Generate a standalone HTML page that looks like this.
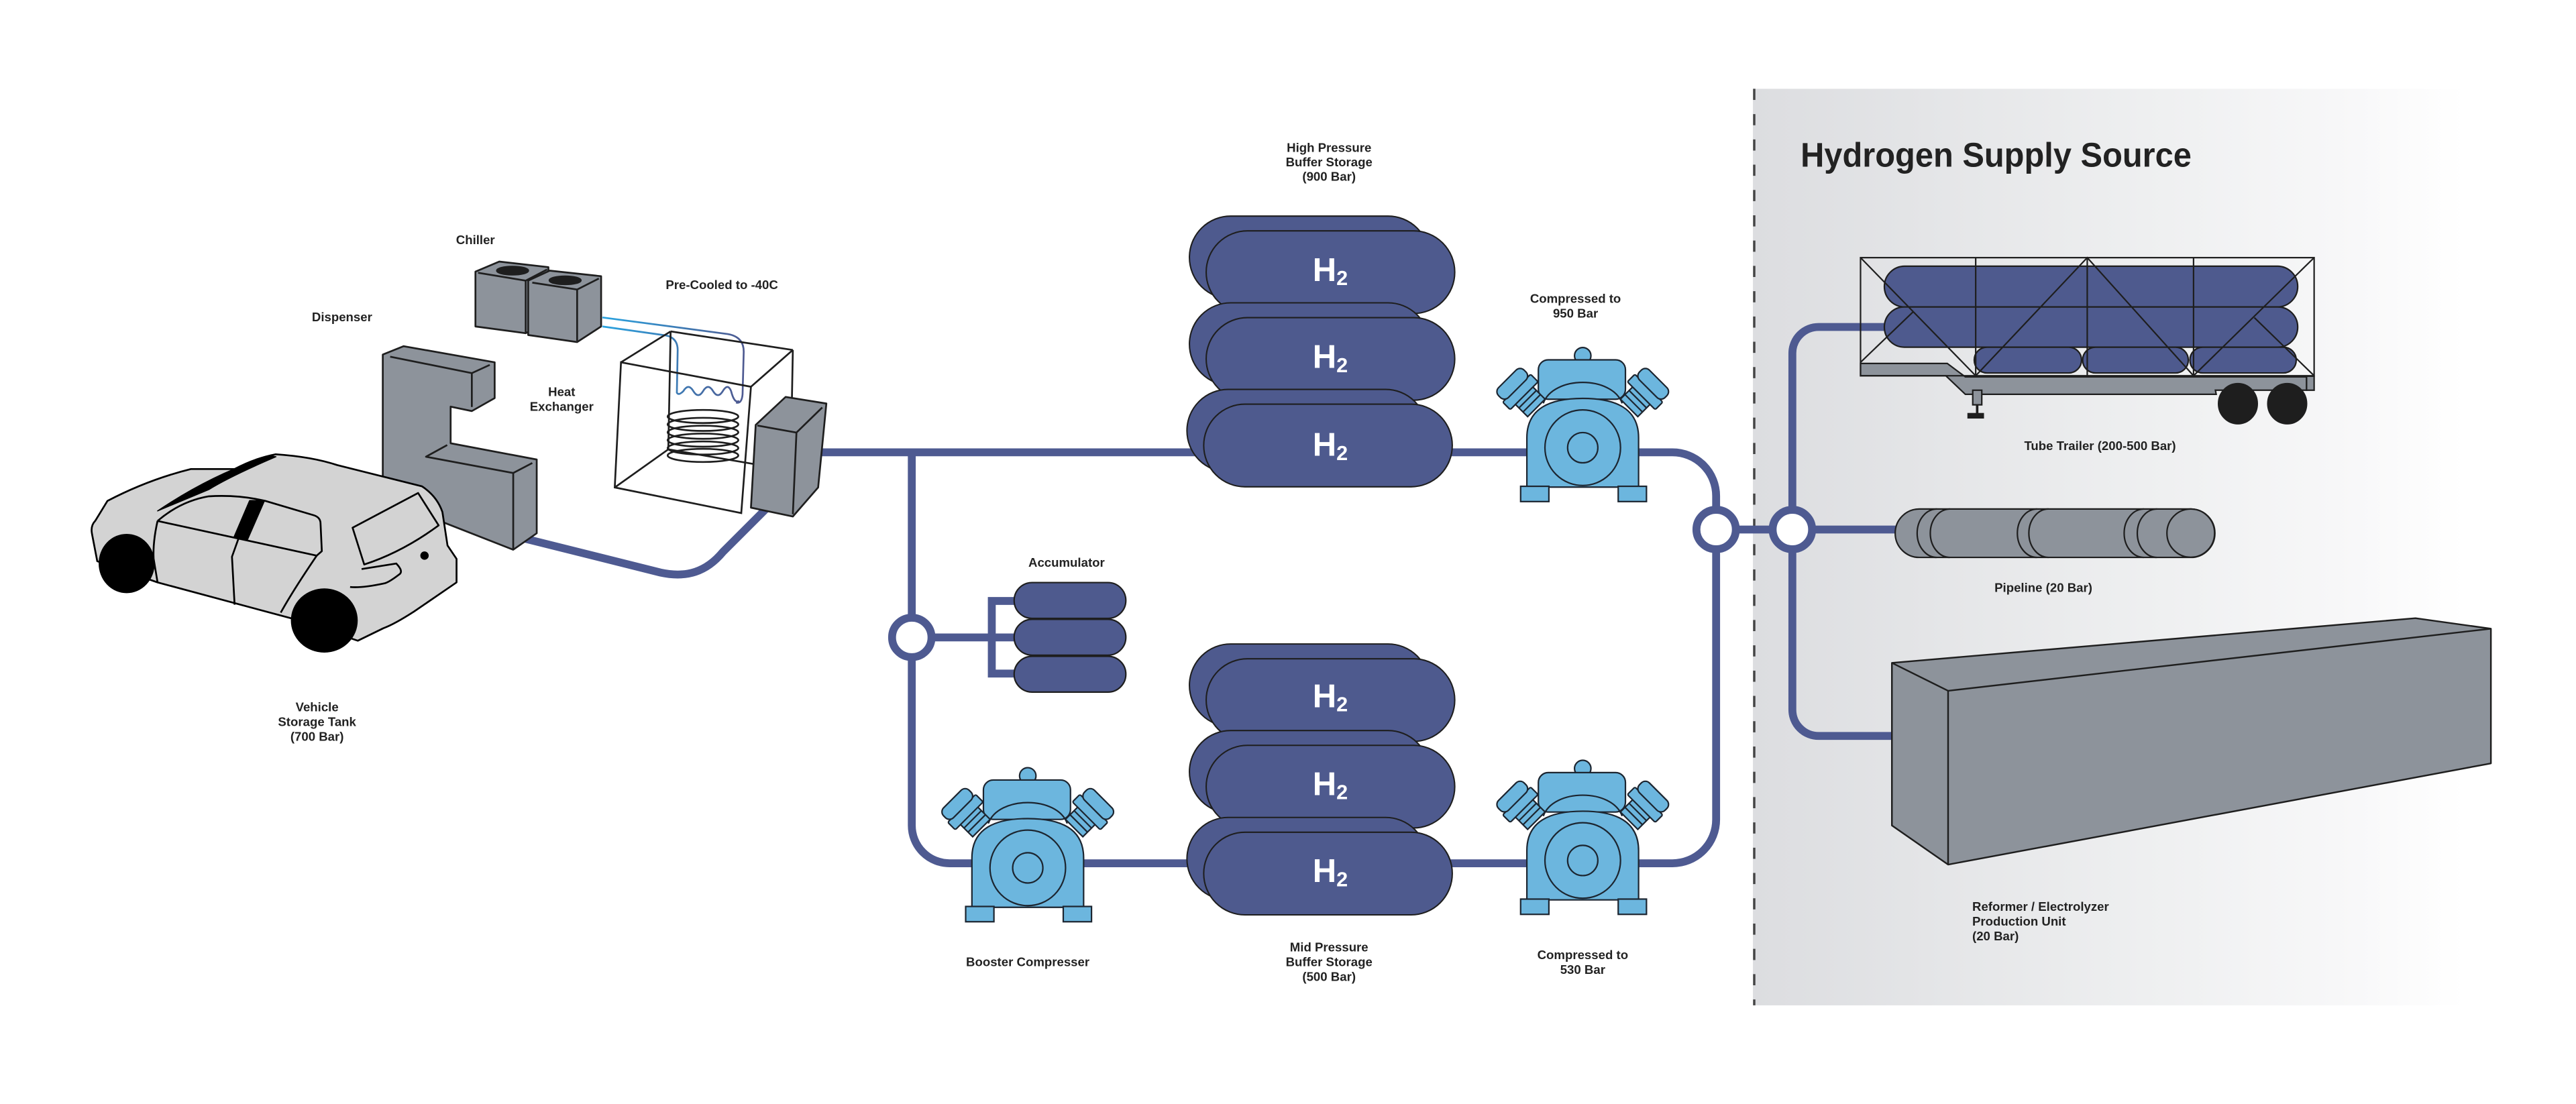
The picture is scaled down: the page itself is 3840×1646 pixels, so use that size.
<!DOCTYPE html>
<html><head><meta charset="utf-8"><style>
html,body{margin:0;padding:0;background:#fff;}
svg{display:block;}
text{font-family:"Liberation Sans",sans-serif;font-weight:bold;fill:#222;}
</style></head><body>
<svg width="3840" height="1646" viewBox="0 0 1568 672" xmlns="http://www.w3.org/2000/svg">
<defs>
<linearGradient id="bg" x1="0" x2="1" y1="0" y2="0">
<stop offset="0" stop-color="#dcdde0"/><stop offset="0.55" stop-color="#eeeff0"/><stop offset="0.85" stop-color="#f8f8f9"/><stop offset="1" stop-color="#ffffff"/>
</linearGradient>
<linearGradient id="cl" x1="0" x2="1" y1="0" y2="0">
<stop offset="0" stop-color="#29a3e0"/><stop offset="1" stop-color="#4e5a91"/>
</linearGradient>
<g id="cyl">
<g transform="translate(-36,-32) rotate(45)">
<rect x="0" y="-7.5" width="11" height="15" fill="#6cb6de"/>
<line x1="3.5" y1="-7.5" x2="3.5" y2="7.5"/><line x1="7" y1="-7.5" x2="7" y2="7.5"/>
<rect x="-6" y="-12" width="6.5" height="24" rx="1"/>
<rect x="-14" y="-11" width="8.5" height="22" rx="3.5"/>
</g>
</g>
<g id="cp" fill="#6cb6de" stroke="#1c2530" stroke-width="0.9">
<circle cx="0" cy="-56" r="5"/>
<rect x="-27" y="-53.5" width="53" height="24" rx="6"/>
<path d="M-24,-27 C-18,-44 18,-44 24,-27" fill="none"/>
<use href="#cyl"/>
<g transform="scale(-1,1)"><use href="#cyl"/></g>
<path d="M-34,24 V-6 C-34,-24 -20,-30 0,-30 C20,-30 34,-24 34,-6 V24 Z"/>
<rect x="-37.8" y="23.5" width="17.2" height="9.3"/>
<rect x="21.6" y="23.5" width="17.2" height="9.3"/>
<circle cx="0" cy="0" r="23"/>
<circle cx="0" cy="0" r="9.2"/>
</g>
<g id="tk" fill="#4e5a8e" stroke="#1e1e1e" stroke-width="0.85">
<rect x="-86" y="-34" width="146" height="50.3" rx="25.1"/>
<rect x="-75.8" y="-25" width="151.3" height="50.3" rx="25.1"/>
</g>
</defs>

<rect x="1067" y="54" width="433" height="558" fill="url(#bg)"/>
<line x1="1067.8" y1="54" x2="1067.8" y2="612" stroke="#444" stroke-width="1.4" stroke-dasharray="6.8 8.6"/>
<text x="1096" y="101.5" font-size="21" textLength="238" lengthAdjust="spacingAndGlyphs" style="fill:#222">Hydrogen Supply Source</text>

<g fill="none" stroke="#4e5a91" stroke-width="4.8">
<path d="M500,275.3 H1018 A26.6,26.6 0 0 1 1044.6,301.9 V322 M1044.6,322 V498.9 A26.6,26.6 0 0 1 1018,525.5 H578 A23,23 0 0 1 555,502.5 V275.3"/>
<path d="M1044.6,322.3 H1091"/>
<path d="M1091,322 V215 A16,16 0 0 1 1107,199 H1150 M1091,322 V432 A16,16 0 0 0 1107,448 H1153 M1091,322.3 H1157"/>
<path d="M555,388 H604 M603.7,365.8 V412.1 M601.3,365.8 H620 M601.3,388 H620 M601.3,410 H620"/>
<path d="M318,327.5 L402,348.5 C418,352 430,348 440,336 L468,308"/>
</g>
<circle cx="1044.6" cy="322.3" r="12" fill="#fff" stroke="#4e5a91" stroke-width="4.8"/>
<circle cx="1091" cy="322.3" r="12" fill="#fff" stroke="#4e5a91" stroke-width="4.8"/>
<circle cx="555" cy="388" r="12" fill="#fff" stroke="#4e5a91" stroke-width="4.8"/>

<g fill="#4e5a8e" stroke="#1e1e1e" stroke-width="0.9">
<rect x="617.3" y="354.6" width="68" height="21.8" rx="10.9"/>
<rect x="617.3" y="377" width="68" height="21.8" rx="10.9"/>
<rect x="617.3" y="399.5" width="68" height="21.8" rx="10.9"/>
</g>

<use href="#tk" x="810" y="165.5"/>
<use href="#tk" x="810" y="218.3"/>
<use href="#tk" x="808.5" y="271"/>
<use href="#tk" x="810" y="426"/>
<use href="#tk" x="810" y="478.7"/>
<use href="#tk" x="808.5" y="531.6"/>
<g style="font-size:20px">
<text x="799" y="171" style="fill:#fff;font-size:20px">H<tspan font-size="12.5" dy="2.5">2</tspan></text>
<text x="799" y="224" style="fill:#fff;font-size:20px">H<tspan font-size="12.5" dy="2.5">2</tspan></text>
<text x="799" y="277.5" style="fill:#fff;font-size:20px">H<tspan font-size="12.5" dy="2.5">2</tspan></text>
<text x="799" y="430.5" style="fill:#fff;font-size:20px">H<tspan font-size="12.5" dy="2.5">2</tspan></text>
<text x="799" y="484" style="fill:#fff;font-size:20px">H<tspan font-size="12.5" dy="2.5">2</tspan></text>
<text x="799" y="537" style="fill:#fff;font-size:20px">H<tspan font-size="12.5" dy="2.5">2</tspan></text>
</g>

<use href="#cp" x="963.4" y="272.5"/>
<use href="#cp" x="963.4" y="523.8"/>
<use href="#cp" x="625.6" y="528.3"/>

<g fill="#8d939b" stroke="#1e1e1e" stroke-width="1.1" stroke-linejoin="round">
<polygon points="289.4,165.3 303.9,159.2 333.8,162.6 333.8,195 320,202.8 289.4,198.7"/>
<polyline points="291,166 320,170.8 333,164" fill="none"/>
<line x1="320" y1="170.8" x2="320" y2="202.8"/>
<polygon points="321.5,170.8 334.6,164.7 365.9,168.1 365.9,198.7 351.3,208.2 321.5,203.9"/>
<polyline points="324,172 351.3,176.2 364.5,169.5" fill="none"/>
<line x1="351.3" y1="176.2" x2="351.3" y2="207.5"/>
<ellipse cx="312" cy="164.7" rx="9.5" ry="2.4" fill="#1e1e1e"/>
<ellipse cx="344" cy="170.6" rx="9.5" ry="2.4" fill="#1e1e1e"/>
</g>
<g fill="none" stroke="url(#cl)" stroke-width="1.1">
<path d="M366.7,193.2 L443,203.3 Q452.7,205 452.7,214 L452,240 Q451.5,246 448,245"/>
<path d="M366.7,198.7 L405,204.1 Q412.5,205.5 412.5,213 L412,239 Q413,241 416,238 Q419,233 422,238 Q425,243 428,238 Q431,233 434,238 Q437,243 440,238 Q443,233 445,238 Q447,246 450,244"/>
</g>
<g fill="none" stroke="#1e1e1e" stroke-width="1.1">
<polygon points="378,220.5 457.1,235.4 451.2,312.3 374.2,296.7"/>
<line x1="378" y1="220.5" x2="408.2" y2="201.7"/>
<line x1="408.2" y1="201.7" x2="482.6" y2="213"/>
<line x1="457.1" y1="235.4" x2="482.6" y2="213"/>
<line x1="482.6" y1="213" x2="482" y2="245"/>
<line x1="408.2" y1="201.7" x2="406.8" y2="273.5"/>
<line x1="374.2" y1="296.7" x2="406.8" y2="273.5"/>
<line x1="406.8" y1="273.5" x2="458.5" y2="282.4"/>
<ellipse cx="427.9" cy="253.5" rx="21.5" ry="4"/>
<ellipse cx="427.9" cy="258.3" rx="21.5" ry="4"/>
<ellipse cx="427.9" cy="263.1" rx="21.5" ry="4"/>
<ellipse cx="427.9" cy="267.9" rx="21.5" ry="4"/>
<ellipse cx="427.9" cy="272.7" rx="21.5" ry="4"/>
<ellipse cx="427.9" cy="277.2" rx="21.5" ry="4"/>
</g>
<g fill="#8d939b" stroke="#1e1e1e" stroke-width="1.1" stroke-linejoin="round">
<polygon points="460,258.6 478.2,241.6 503,245.6 498,296.7 482.6,314.4 457.1,309"/>
<polyline points="461,259 484.8,263.3 500.5,248" fill="none"/>
<line x1="484.8" y1="263.3" x2="482.6" y2="313"/>
</g>

<g fill="#8d939b" stroke="#1e1e1e" stroke-width="1.1" stroke-linejoin="round">
<polygon points="233,215.8 245.7,210.7 301.1,220.5 301.1,242.3 287.2,250.2 274.3,247.5 274.3,269.8 326.7,279.7 326.7,324.6 312.4,334.6 233,303.5"/>
<polyline points="237.5,217.1 287.2,227.1 298.1,222.1" fill="none"/>
<line x1="287.2" y1="227.1" x2="287.2" y2="247.7"/>
<polyline points="272.2,270.9 259.3,278 312.4,287.9 324,281.8" fill="none"/>
<line x1="312.4" y1="287.9" x2="312.4" y2="334"/>
</g>

<g stroke="#000" stroke-width="1.1" stroke-linejoin="round">
<path fill="#d3d3d3" d="M59.2,341.6 L56,325 Q55,320 58,317 L65.4,304.9 Q90,292 116.2,285.5 L142.8,285.5 Q155,279 167.8,276.5 Q190,278 205.3,283.1 L256.8,296 Q266,302 269.3,311.7 L272.4,332 L277.9,340.2 L277.9,354.5 L252.1,372.2 Q240,380 233.4,382.4 L217.8,390 L177,376.3 L95.9,354.5 Z"/>
<ellipse cx="77.1" cy="343" rx="16.5" ry="17.5" fill="#000"/>
<ellipse cx="197.4" cy="377.7" rx="19.8" ry="19" fill="#000"/>
<path fill="none" d="M95.9,317.1 Q110,305 127.1,302.1 Q145,301 161.5,304.9 L191.2,313.7 Q195,315 195.1,318.5 L195.9,335.5 L192.8,338.2 L95.9,317.1"/>
<path fill="none" d="M95.9,317.1 Q93,330 93.5,340 L95.9,354.5"/>
<polygon points="142.8,326.6 152.1,304.9 160.7,304.9 150.6,328" fill="#000"/>
<path fill="none" d="M145.1,328 L141.2,338.9 L142.8,368.1"/>
<path fill="none" d="M192.8,338.2 Q178,360 170.9,372.9"/>
<path fill="#d3d3d3" d="M214.6,321.2 L254.5,300.1 L267,319.8 Q245,336 221.7,343.6 Z"/>
<path fill="none" d="M220.1,346.4 L241.2,343 Q246,348 242.8,349.8 Q236,355 233.4,355.2 Q220,358 213.1,357.3"/>
<path fill="#000" stroke-width="0.6" d="M95.9,311 Q130,288 164.6,277.4 L168,278 Q140,290 127.1,298 Z"/>
<circle cx="258.4" cy="338.2" r="2" fill="#000"/>
</g>

<g stroke="#1e1e1e" stroke-width="0.9">
<path fill="#8d939b" d="M1132.5,221.2 H1185.3 L1196.3,229.4 H1404 V237.5 H1348.5 L1349,240 H1196.3 L1184.4,228.7 H1132.5 Z"/>
<rect x="1404" y="229" width="4.6" height="8.5" fill="#8d939b"/>
<rect x="1200.8" y="237.5" width="5.5" height="8.9" fill="#8d939b"/>
<rect x="1198" y="251.8" width="9.2" height="2.5" fill="#1e1e1e"/>
<line x1="1203.5" y1="246.4" x2="1203.5" y2="252" stroke-width="1.5"/>
<ellipse cx="1362.2" cy="245.7" rx="11.8" ry="12.2" fill="#1e1e1e"/>
<ellipse cx="1392.2" cy="245.7" rx="11.8" ry="12.2" fill="#1e1e1e"/>
<g fill="#4e5a8e">
<rect x="1147" y="162" width="251.6" height="24.8" rx="12.4"/>
<rect x="1147" y="186.8" width="251.6" height="24.5" rx="12.2"/>
<rect x="1201.7" y="211.3" width="65.3" height="15.7" rx="7.8"/>
<rect x="1267.7" y="211.3" width="64.3" height="15.7" rx="7.8"/>
<rect x="1333" y="211.3" width="64.7" height="15.7" rx="7.8"/>
</g>
<g fill="none">
<rect x="1132.5" y="156.8" width="276.1" height="71.9"/>
<line x1="1202.6" y1="156.8" x2="1202.6" y2="228.7"/>
<line x1="1270.5" y1="156.8" x2="1270.5" y2="228.7"/>
<line x1="1335.2" y1="156.8" x2="1335.2" y2="228.7"/>
<line x1="1132.5" y1="156.8" x2="1202.6" y2="228.7"/>
<line x1="1132.5" y1="220.5" x2="1164.4" y2="189.9"/>
<polyline points="1202.6,228.7 1270.5,156.8 1335.2,228.7"/>
<line x1="1335.2" y1="228.7" x2="1408.6" y2="156.8"/>
<line x1="1372.2" y1="193.3" x2="1408.6" y2="228.7"/>
</g>
</g>

<g fill="#8d939b" stroke="#1e1e1e" stroke-width="0.9">
<rect x="1153.6" y="309.8" width="194.6" height="29.5" rx="14.7"/>
<path fill="none" d="M1179,309.8 A12,14.7 0 0 0 1179,339.3 M1187,309.8 A12,14.7 0 0 0 1187,339.3 M1240,309.8 A12,14.7 0 0 0 1240,339.3 M1247,309.8 A12,14.7 0 0 0 1247,339.3 M1305,309.8 A12,14.7 0 0 0 1305,339.3 M1313,309.8 A12,14.7 0 0 0 1313,339.3"/>
<ellipse cx="1333.5" cy="324.5" rx="14.5" ry="14.7"/>
</g>

<g fill="#8d939b" stroke="#1e1e1e" stroke-width="1" stroke-linejoin="round">
<polygon points="1151.6,403.5 1470.3,376.3 1516.2,382.7 1516.2,464.7 1185.8,526.3 1151.6,502.5"/>
<polyline points="1151.6,403.5 1185.8,420.5 1516.2,382.7" fill="none"/>
<line x1="1185.8" y1="420.5" x2="1185.8" y2="526.3"/>
</g>

<g font-size="7.6" text-anchor="middle">
<text x="289.4" y="148.5">Chiller</text>
<text x="208.2" y="195.5">Dispenser</text>
<text x="439.4" y="176">Pre-Cooled to -40C</text>
<text x="341.9" y="241">Heat</text>
<text x="341.9" y="250">Exchanger</text>
<text x="193" y="433">Vehicle</text>
<text x="193" y="442">Storage Tank</text>
<text x="193" y="451">(700 Bar)</text>
<text x="809" y="92.5">High Pressure</text>
<text x="809" y="101.2">Buffer Storage</text>
<text x="809" y="110">(900 Bar)</text>
<text x="959" y="184.4">Compressed to</text>
<text x="959" y="193.3">950 Bar</text>
<text x="649.2" y="345">Accumulator</text>
<text x="625.6" y="588.2">Booster Compresser</text>
<text x="809" y="579.2">Mid Pressure</text>
<text x="809" y="588.2">Buffer Storage</text>
<text x="809" y="597.2">(500 Bar)</text>
<text x="963.4" y="583.8">Compressed to</text>
<text x="963.4" y="592.8">530 Bar</text>
<text x="1278.3" y="274">Tube Trailer (200-500 Bar)</text>
<text x="1243.8" y="360.2">Pipeline (20 Bar)</text>
</g>
<g font-size="7.6">
<text x="1200.5" y="554.4">Reformer / Electrolyzer</text>
<text x="1200.5" y="563.4">Production Unit</text>
<text x="1200.5" y="572.4">(20 Bar)</text>
</g>
</svg>
</body></html>
